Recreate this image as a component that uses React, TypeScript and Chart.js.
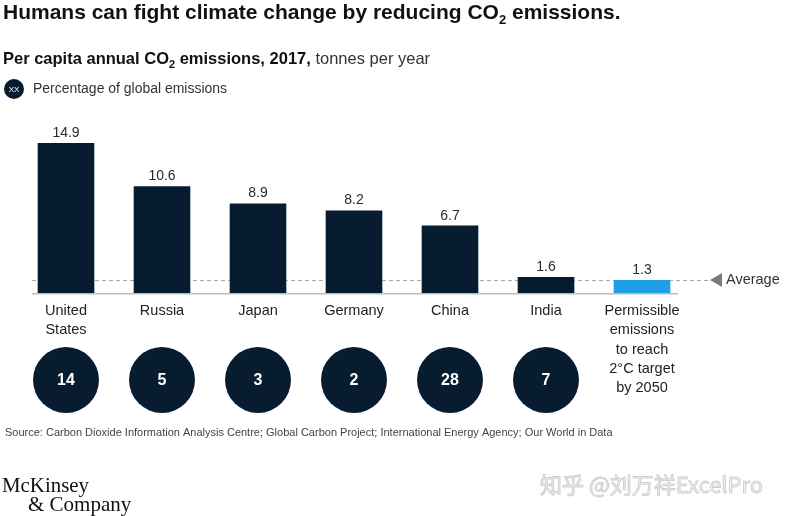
import { useEffect, useRef } from 'react';
import { Chart, registerables } from 'chart.js';

Chart.register(...registerables);

const categories: string[][] = [
  ['United', 'States'],
  ['Russia'],
  ['Japan'],
  ['Germany'],
  ['China'],
  ['India'],
  ['Permissible', 'emissions', 'to reach', '2°C target', 'by 2050'],
];
const emissions = [14.9, 10.6, 8.9, 8.2, 6.7, 1.6, 1.3];
const valueLabels = ['14.9', '10.6', '8.9', '8.2', '6.7', '1.6', '1.3'];
const globalShare: (number | null)[] = [14, 5, 3, 2, 28, 7, null];
const averageValue = 1.3;
const NAVY = '#071d2f';
const CYAN = '#1c9fe6';
const barColors = [NAVY, NAVY, NAVY, NAVY, NAVY, NAVY, CYAN];

const SANS = '"Liberation Sans", Arial, sans-serif';

type Seg = { t: string; font: string; dy?: number; color?: string };

function drawRich(ctx: CanvasRenderingContext2D, x: number, y: number, segs: Seg[], color: string) {
  let cx = x;
  ctx.textAlign = 'left';
  ctx.textBaseline = 'alphabetic';
  for (const s of segs) {
    ctx.font = s.font;
    ctx.fillStyle = s.color || color;
    ctx.fillText(s.t, cx, y + (s.dy || 0));
    cx += ctx.measureText(s.t).width;
  }
}

const overlay = {
  id: 'overlay',
  beforeDatasetsDraw(chart: any) {
    const ctx: CanvasRenderingContext2D = chart.ctx;
    const y = Math.round(chart.scales.y.getPixelForValue(averageValue)) + 0.5;
    ctx.save();
    ctx.strokeStyle = '#a8a8a8';
    ctx.lineWidth = 1.2;
    ctx.setLineDash([4, 3]);
    ctx.beginPath();
    ctx.moveTo(32, y);
    ctx.lineTo(708, y);
    ctx.stroke();
    ctx.restore();
  },
  afterDatasetsDraw(chart: any) {
    const ctx: CanvasRenderingContext2D = chart.ctx;
    const xs = chart.scales.x;
    const ys = chart.scales.y;
    const base = ys.getPixelForValue(0);
    ctx.save();
    // baseline
    ctx.strokeStyle = '#bdbdbd';
    ctx.lineWidth = 1.5;
    ctx.beginPath();
    ctx.moveTo(32, base + 0.75);
    ctx.lineTo(678, base + 0.75);
    ctx.stroke();

    // average marker
    const ay = ys.getPixelForValue(averageValue);
    ctx.fillStyle = '#7a7a7a';
    ctx.beginPath();
    ctx.moveTo(710, ay);
    ctx.lineTo(722, ay - 7);
    ctx.lineTo(722, ay + 7);
    ctx.closePath();
    ctx.fill();
    ctx.fillStyle = '#333';
    ctx.font = `14.5px ${SANS}`;
    ctx.textAlign = 'left';
    ctx.textBaseline = 'middle';
    ctx.fillText('Average', 726, ay + 0.5);

    // value labels, category labels, circles
    emissions.forEach((v, i) => {
      const x = xs.getPixelForValue(i);
      const top = ys.getPixelForValue(v);
      ctx.fillStyle = '#2a2a2a';
      ctx.font = `14px ${SANS}`;
      ctx.textAlign = 'center';
      ctx.textBaseline = 'alphabetic';
      ctx.fillText(valueLabels[i], x, top - 6);

      ctx.font = `14.5px ${SANS}`;
      ctx.textBaseline = 'middle';
      ctx.fillStyle = '#222';
      categories[i].forEach((line, j) => {
        ctx.fillText(line, x, 311 + j * 19.3);
      });

      const share = globalShare[i];
      if (share !== null) {
        ctx.fillStyle = NAVY;
        ctx.beginPath();
        ctx.arc(x, 380, 33, 0, Math.PI * 2);
        ctx.fill();
        ctx.fillStyle = '#ffffff';
        ctx.font = `bold 16px ${SANS}`;
        ctx.textBaseline = 'middle';
        ctx.fillText(String(share), x, 381);
      }
    });

    // title
    const tf = `bold 21px ${SANS}`;
    drawRich(ctx, 3, 19, [
      { t: 'Humans can fight climate change by reducing CO', font: tf },
      { t: '2', font: `bold 13px ${SANS}`, dy: 5 },
      { t: ' emissions.', font: tf },
    ], '#111');

    // subtitle
    const sf = `bold 16.5px ${SANS}`;
    drawRich(ctx, 3, 64, [
      { t: 'Per capita annual CO', font: sf },
      { t: '2', font: `bold 11px ${SANS}`, dy: 4 },
      { t: ' emissions, 2017,', font: sf },
      { t: ' tonnes per year', font: `16.5px ${SANS}`, color: '#333' },
    ], '#111');

    // legend
    ctx.fillStyle = NAVY;
    ctx.beginPath();
    ctx.arc(14, 89, 10, 0, Math.PI * 2);
    ctx.fill();
    ctx.fillStyle = '#fff';
    ctx.font = `8px ${SANS}`;
    ctx.textAlign = 'center';
    ctx.textBaseline = 'middle';
    ctx.fillText('XX', 14, 89.5);
    ctx.fillStyle = '#333';
    ctx.font = `14px ${SANS}`;
    ctx.textAlign = 'left';
    ctx.fillText('Percentage of global emissions', 33, 89.5, 194);

    // source
    ctx.fillStyle = '#444';
    ctx.font = `11px ${SANS}`;
    ctx.textBaseline = 'middle';
    ctx.fillText(
      'Source: Carbon Dioxide Information Analysis Centre; Global Carbon Project; International Energy Agency; Our World in Data',
      5, 433, 613
    );

    // logo
    ctx.fillStyle = '#111';
    ctx.font = `21px "Liberation Serif", "DejaVu Serif", serif`;
    ctx.textBaseline = 'alphabetic';
    ctx.fillText('McKinsey', 2, 492, 87);
    ctx.fillText('& Company', 28, 511, 104);

    // watermark
    ctx.font = `22px "Noto Sans CJK SC", sans-serif`;
    ctx.textBaseline = 'middle';
    ctx.fillStyle = '#f4f4f4';
    ctx.strokeStyle = '#d0d0d0';
    ctx.lineWidth = 1;
    ctx.fillText('知乎 @刘万祥ExcelPro', 540, 485, 246);
    ctx.strokeText('知乎 @刘万祥ExcelPro', 540, 485, 246);
    ctx.restore();
  },
};

export default function App() {
  const ref = useRef<HTMLCanvasElement>(null);
  useEffect(() => {
    if (!ref.current) return;
    const chart = new Chart(ref.current, {
      type: 'bar',
      data: {
        labels: categories.map((c) => c.join(' ')),
        datasets: [
          {
            data: emissions,
            backgroundColor: barColors,
            borderWidth: 0,
            barPercentage: 0.59,
            categoryPercentage: 1,
          },
        ],
      },
      options: {
        responsive: false,
        animation: false,
        layout: { padding: { left: 18, right: 114, top: 132, bottom: 223 } },
        plugins: { legend: { display: false }, tooltip: { enabled: false }, title: { display: false } },
        scales: {
          x: { display: false, offset: true },
          y: { display: false, min: 0, max: 16 },
        },
      },
      plugins: [overlay],
    });
    return () => chart.destroy();
  }, []);
  return (
    <div style={{ position: 'absolute', left: 0, top: 0, width: 804, height: 516, background: '#fff' }}>
      <canvas ref={ref} width={804} height={516} style={{ width: 804, height: 516, display: 'block' }} />
    </div>
  );
}
